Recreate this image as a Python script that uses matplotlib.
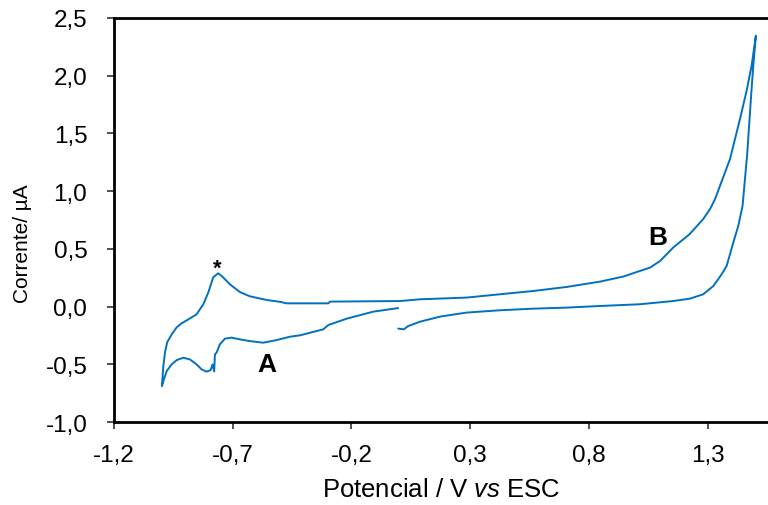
import matplotlib
matplotlib.use("Agg")
import matplotlib.pyplot as plt

plt.rcParams['font.family'] = ['Liberation Sans', 'DejaVu Sans']
plt.rcParams['mathtext.fontset'] = 'custom'
plt.rcParams['mathtext.rm'] = 'Liberation Sans'
plt.rcParams['mathtext.it'] = 'Liberation Sans:italic'

# Cyclic voltammogram: potential (V vs ESC) and current (µA), in scan order
potential = [
    -0.003, 0.021, 0.039, 0.089, 0.173, 0.285, 0.425, 0.565, 0.706, 0.845,
    1.013, 1.154, 1.225, 1.280, 1.323, 1.358, 1.379, 1.407, 1.428, 1.446,
    1.466, 1.480, 1.491, 1.502,
    1.484, 1.463, 1.435, 1.393, 1.351, 1.330, 1.309, 1.280, 1.223, 1.154,
    1.099, 1.057, 0.944, 0.846, 0.706, 0.565, 0.285, 0.089, 0.005, -0.290,
    -0.297, -0.472, -0.500, -0.556, -0.627, -0.669, -0.711, -0.744, -0.760,
    -0.781, -0.802, -0.823, -0.851, -0.886, -0.914, -0.935, -0.956, -0.975,
    -0.984, -0.991, -0.997,
    -0.991, -0.977, -0.956, -0.935, -0.907, -0.879, -0.851, -0.830, -0.809,
    -0.792, -0.784, -0.777, -0.774, -0.767, -0.753, -0.732, -0.704, -0.669,
    -0.627, -0.571, -0.514, -0.458, -0.416, -0.318, -0.297, -0.220, -0.108,
    -0.003,
]
current = [
    -0.191, -0.197, -0.169, -0.131, -0.087, -0.052, -0.032, -0.018, -0.009, 0.005,
    0.020, 0.048, 0.069, 0.106, 0.178, 0.280, 0.352, 0.555, 0.699, 0.872,
    1.335, 1.769, 2.086, 2.346,
    2.086, 1.869, 1.624, 1.277, 1.046, 0.930, 0.844, 0.757, 0.627, 0.511,
    0.395, 0.338, 0.260, 0.216, 0.170, 0.135, 0.078, 0.063, 0.048, 0.043,
    0.028, 0.028, 0.041, 0.057, 0.089, 0.126, 0.193, 0.262, 0.288,
    0.254, 0.121, 0.020, -0.067, -0.111, -0.145, -0.180, -0.241, -0.310,
    -0.397, -0.516, -0.689,
    -0.646, -0.559, -0.501, -0.464, -0.443, -0.458, -0.501, -0.544, -0.564,
    -0.550, -0.501, -0.562, -0.414, -0.399, -0.327, -0.278, -0.269, -0.284,
    -0.299, -0.313, -0.290, -0.261, -0.249, -0.197, -0.160, -0.105, -0.044,
    -0.013,
]

x_ticks = [-1.2, -0.7, -0.2, 0.3, 0.8, 1.3]
x_tick_labels = ['-1,2', '-0,7', '-0,2', '0,3', '0,8', '1,3']
y_ticks = [-1.0, -0.5, 0.0, 0.5, 1.0, 1.5, 2.0, 2.5]
y_tick_labels = ['-1,0', '-0,5', '0,0', '0,5', '1,0', '1,5', '2,0', '2,5']

fig = plt.figure(figsize=(7.68, 5.06), dpi=100)
ax = fig.add_axes([0.148, 0.164, 0.852, 0.7985])

ax.plot(potential, current, color='#0070C0', linewidth=1.4,
        solid_joinstyle='round', solid_capstyle='round')

ax.set_xlim(-1.2, 1.553)
ax.set_ylim(-1.0, 2.5)
ax.set_xticks(x_ticks)
ax.set_xticklabels(x_tick_labels)
ax.set_yticks(y_ticks)
ax.set_yticklabels(y_tick_labels)

for side in ('left', 'bottom', 'top'):
    ax.spines[side].set_linewidth(2.0)
    ax.spines[side].set_color('black')
ax.spines['right'].set_visible(False)

ax.tick_params(axis='both', direction='out', length=5, width=1.2,
               colors='#333333', labelcolor='black', labelsize=17.5)
ax.tick_params(axis='x', pad=11)
ax.tick_params(axis='y', pad=14)

ax.set_xlabel(r'Potencial / V $\it{vs}$ ESC', fontsize=18.5, labelpad=8)
fig.text(23 / 768, 1 - 244 / 506, 'Corrente/ µA', fontsize=15, rotation=90,
         ha='center', va='center')

ax.text(-0.765, 0.33, '*', fontsize=16, fontweight='bold', ha='center', va='center')
ax.text(-0.556, -0.495, 'A', fontsize=19, fontweight='bold', ha='center', va='center')
ax.text(1.091, 0.60, 'B', fontsize=19, fontweight='bold', ha='center', va='center')

fig.savefig('out.png', dpi=100)
